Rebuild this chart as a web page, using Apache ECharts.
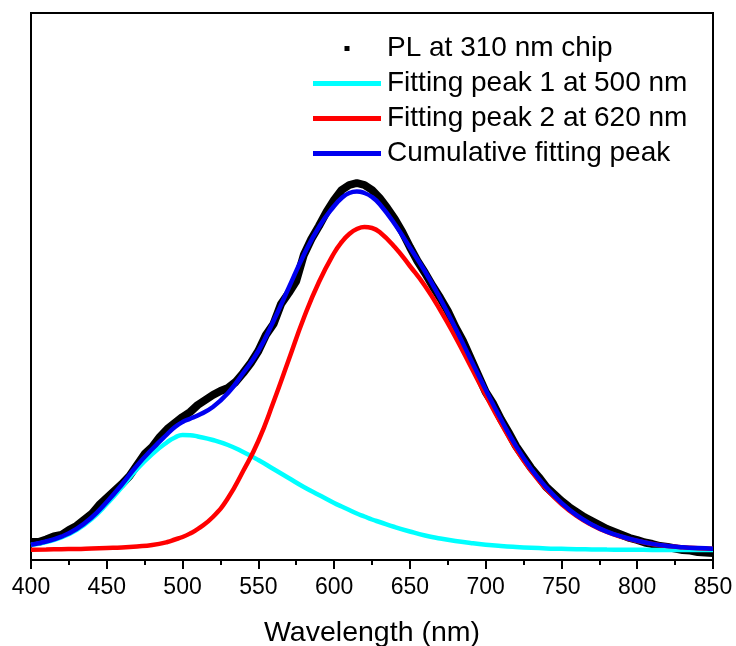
<!DOCTYPE html>
<html>
<head>
<meta charset="utf-8">
<script src="https://cdn.jsdelivr.net/npm/echarts@6/dist/echarts.min.js"></script>
<style>
  html, body { margin: 0; padding: 0; background: #fff; }
  #chart { width: 736px; height: 646px; }
</style>
</head>
<body>
<div id="chart"></div>
<script>
// PL spectrum (5 nm steps) and fit components (10 nm steps, 5 nm near the maxima), intensity in a.u.
const plWavelength = [400,405,410,415,420,425,430,435,440,445,450,455,460,465,470,475,480,485,490,495,
  500,505,510,515,520,525,530,535,540,545,550,555,560,565,570,575,580,585,590,595,
  600,605,610,615,620,625,630,635,640,645,650,655,660,665,670,675,680,685,690,695,
  700,705,710,715,720,725,730,735,740,745,750,755,760,765,770,775,780,785,790,795,
  800,805,810,815,820,825,830,835,840,845,850];
const plIntensity = [8,8,10.5,13.5,15,20,24,30,36,45,52,59,66,74,85,96,103,113,121,127,
  133,138,145,150,155,159,162,168,177,187,199,215,226,246,257,269,295,311,324,338,
  350,360,365,367,365,360,352,342,331,318,303,289,277,264,252,239,223,209,192,175,
  158,146,131,118,104,93,82,73,63,56,49,43,38,33,29,25,21,18,15,12,
  10,7.5,6,4,3,1.5,0,-0.5,-2,-2.5,-3];

const fitWavelength = [400,410,420,430,440,450,460,470,480,490,495,500,505,510,520,530,540,550,560,570,580,590,
  600,605,610,615,620,625,630,640,650,660,670,680,690,700,710,720,730,740,750,760,770,780,790,
  800,810,820,830,840,850];
const peak1 = [5,8,12.5,20,31,46,63,81,96,108,112.5,115,114.8,113.5,110,105,98,90,81,72,63,55,
  47,43.5,40,36.5,33.5,30.5,28,23,18.5,14.5,11.5,9,7,5.3,4,3,2.2,1.6,1.2,0.8,0.6,0.4,0.3,
  0.2,0.1,0.1,0,0,0];
const peak2 = [0.3,0.5,0.8,1,1.5,2,2.5,3.5,5,8,10.5,13,16.5,21,33,52,79,109,148,190,232,268,
  297,308,316,321,323,322,318,303,284,264,240,213,184,155,127,101,79,61,46,34,25,18,13,
  9,6,4,2.7,1.8,1.2];
const cumulative = [5.3,8.5,13.3,21,32.5,48,65.5,84.5,101,116,123,128,131.3,134.5,143,157,177,199,229,262,295,323,
  344,352,357,358.5,357,353,346,326,302.5,278.5,251.5,222,191,160.3,131,104,81.2,62.6,47.2,34.8,25.6,18.4,13.3,
  9.2,6.1,4.1,2.8,1.9,1.3];

const xTicks = { min: 400, max: 850, interval: 50 };
const seriesNames = ['PL at 310 nm chip', 'Fitting peak 1 at 500 nm', 'Fitting peak 2 at 620 nm', 'Cumulative fitting peak'];

const pairs = (xs, ys) => xs.map((x, i) => [x, ys[i]]);
const FONT = '"Liberation Sans", Arial, sans-serif';

const chart = echarts.init(document.getElementById('chart'), null, { renderer: 'canvas' });
chart.setOption({
  animation: false,
  backgroundColor: '#ffffff',
  grid: {
    left: 31, right: 23, top: 13, bottom: 86,
    outerBoundsMode: 'none',
    containLabel: false,
    show: true, borderColor: '#000', borderWidth: 2, backgroundColor: 'transparent'
  },
  legend: {
    orient: 'vertical',
    left: 313,
    top: 31,
    padding: 0,
    itemWidth: 68,
    itemHeight: 5,
    itemGap: 0,
    textStyle: { fontFamily: FONT, fontSize: 28, color: '#000', lineHeight: 35, padding: [0, 0, 0, 1] },
    data: [
      { name: seriesNames[0], icon: 'path://M0,0h1v1h-1z' },
      { name: seriesNames[1], icon: 'rect' },
      { name: seriesNames[2], icon: 'rect' },
      { name: seriesNames[3], icon: 'rect' }
    ]
  },
  xAxis: {
    type: 'value',
    min: xTicks.min, max: xTicks.max, interval: xTicks.interval,
    name: 'Wavelength (nm)',
    nameLocation: 'middle',
    nameGap: 59,
    nameTextStyle: { fontFamily: FONT, fontSize: 28.5, color: '#000' },
    axisLine: { show: true, onZero: false, lineStyle: { color: '#000', width: 2 } },
    axisTick: { show: true, inside: false, length: 9, lineStyle: { color: '#000', width: 2 } },
    minorTick: { show: true, splitNumber: 2, length: 5, lineStyle: { color: '#000', width: 2 } },
    axisLabel: { fontFamily: FONT, fontSize: 23, color: '#000', margin: 16 },
    splitLine: { show: false }
  },
  yAxis: {
    type: 'value',
    min: -10, max: 537,
    show: false,
    splitLine: { show: false }
  },
  series: [
    {
      name: seriesNames[0], type: 'line', data: pairs(plWavelength, plIntensity),
      showSymbol: false, symbol: 'rect', color: '#000',
      lineStyle: { color: '#000', width: 8 }, z: 1
    },
    {
      name: seriesNames[1], type: 'line', data: pairs(fitWavelength, peak1),
      showSymbol: false, smooth: 0.5, color: '#00FFFF',
      lineStyle: { color: '#00FFFF', width: 4.5 }, z: 2
    },
    {
      name: seriesNames[2], type: 'line', data: pairs(fitWavelength, peak2),
      showSymbol: false, smooth: 0.5, color: '#FF0000',
      lineStyle: { color: '#FF0000', width: 4.5 }, z: 3
    },
    {
      name: seriesNames[3], type: 'line', data: pairs(fitWavelength, cumulative),
      showSymbol: false, smooth: 0.5, color: '#0000F0',
      lineStyle: { color: '#0000F0', width: 4.5 }, z: 4
    }
  ]
});
</script>
</body>
</html>
